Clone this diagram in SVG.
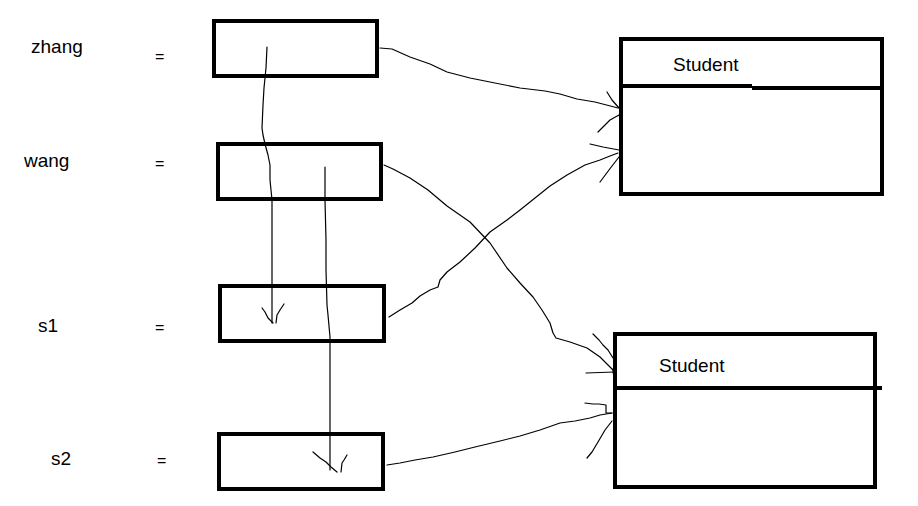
<svg xmlns="http://www.w3.org/2000/svg" width="918" height="506" viewBox="0 0 918 506">
<style>
.box{fill:#fff;stroke:#000;stroke-width:4}
.div{stroke:#000;stroke-width:4}
.lbl{font-family:"Liberation Sans","Noto Sans",sans-serif;font-size:19px;fill:#000}
.eq{font-family:"Liberation Sans","Noto Sans",sans-serif;font-size:16px;fill:#000}
.c{fill:none;stroke:#000;stroke-width:1.2;stroke-linejoin:round;stroke-linecap:round}
</style>
<rect width="918" height="506" fill="#fff"/>
<g id="labels">
<text class="lbl" x="31" y="53">zhang</text>
<text class="eq" x="155" y="62">=</text>
<text class="lbl" x="24" y="167">wang</text>
<text class="eq" x="155" y="169">=</text>
<text class="lbl" x="38" y="332">s1</text>
<text class="eq" x="155" y="333">=</text>
<text class="lbl" x="51" y="465">s2</text>
<text class="eq" x="157" y="466">=</text>
</g>
<g id="zhang"><rect class="box" x="214" y="21" width="163" height="55"/></g>
<g id="wang"><rect class="box" x="218" y="144" width="163" height="55"/></g>
<g id="s1"><rect class="box" x="220" y="286" width="164" height="55"/></g>
<g id="s2"><rect class="box" x="219" y="434" width="164" height="55"/></g>
<g id="student1">
<rect class="box" x="621" y="39" width="261" height="155"/>
<line class="div" x1="621" y1="86" x2="752" y2="86"/>
<line class="div" x1="752" y1="88" x2="884" y2="88"/>
<text class="lbl" x="673" y="71">Student</text>
</g>
<g id="student2">
<rect class="box" x="615" y="334" width="260" height="153"/>
<line class="div" x1="615" y1="388" x2="882" y2="388"/>
<text class="lbl" x="659" y="372">Student</text>
</g>
<g id="connectors">
<path class="c" d="M380 48 L392 49 L410 57 L430 64 L447 72 L470 78 L490 82 L520 88 L545 91 L560 94 L577 99 L595 102 L618 108"/>
<path class="c" d="M607 92 L612 100 L619 108"/>
<path class="c" d="M619 115 L610 120 L604 126 L598 132"/>
<path class="c" d="M389 317 L400 310 L412 303 L420 296 L430 290 L438 287 L440 280 L447 272 L460 262 L475 248 L490 232 L507 220 L520 210 L535 198 L550 186 L567 175 L585 165 L600 160 L610 156 L618 153"/>
<path class="c" d="M590 144 L603 147 L619 150"/>
<path class="c" d="M619 157 L612 166 L606 174 L600 182"/>
<path class="c" d="M384 165 L393 169 L410 178 L428 190 L447 206 L470 222 L490 243 L507 268 L520 283 L533 297 L542 310 L550 323 L553 333 L556 338 L570 342 L587 348 L600 357 L613 370"/>
<path class="c" d="M593 334 L599 340 L603 345 L608 350 L613 358"/>
<path class="c" d="M586 373 L614 372"/>
<rect x="613" y="369" width="3" height="4" fill="none" stroke="#000" stroke-width="1"/>
<path class="c" d="M387 465 L400 463 L415 460 L433 457 L455 452 L475 447 L500 441 L520 436 L540 430 L560 423 L575 421 L590 418 L600 415 L612 413"/>
<path class="c" d="M585 403 L593 404 L599 404 L606 405 L606 413 L612 413"/>
<path class="c" d="M612 421 L605 430 L598 442 L592 452 L587 458"/>
<path class="c" d="M267 47 L266 68 L264 88 L263 105 L262 128 L263 135 L265 144 L268 155 L270 165 L270 180 L272 200 L272 240 L272 280 L272 323"/>
<path class="c" d="M262 308 L265 312 L268 318 L273 323"/>
<path class="c" d="M284 304 L280 310 L277 315 L276 323"/>
<path class="c" d="M325 167 L325 200 L326 240 L326 270 L327 305 L328 315 L330 337 L330 380 L330 420 L330 470"/>
<path class="c" d="M313 452 L320 458 L326 462 L331 467 L337 472"/>
<path class="c" d="M347 455 L344 460 L342 463 L341 472"/>
</g>
</svg>
